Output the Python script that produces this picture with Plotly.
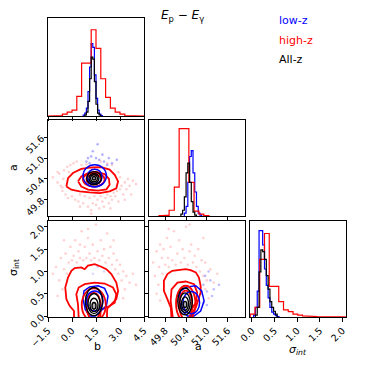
import numpy as np
import plotly.graph_objects as go

# axis ranges / ticks
b_range = [-1.5, 4.5]
a_range = [49.33, 52.1]
s_range = [-0.02, 2.13]
s_xrange = [-0.04, 2.08]
b_ticks = [-1.5, 0.0, 1.5, 3.0, 4.5]
b_ticktext = ["\u22121.5", "0.0", "1.5", "3.0", "4.5"]
a_ticks = [49.8, 50.4, 51.0, 51.6]
a_ticktext = ["49.8", "50.4", "51.0", "51.6"]
s_ticks = [0.0, 0.5, 1.0, 1.5, 2.0]
s_ticktext = ["0.0", "0.5", "1.0", "1.5", "2.0"]

# ---- 1D histograms (heights as fraction of panel) ----
red_b_hist = [0.0, 0.0, 0.005, 0.02, 0.04, 0.06, 0.2, 0.54, 0.54, 0.88,
              0.69, 0.38, 0.19, 0.08, 0.04, 0.02, 0.005, 0.0, 0.0, 0.0]
blue_b_edges = [0.7, 0.8, 0.9, 1.0, 1.1, 1.2, 1.3, 1.4, 1.5, 1.6, 1.7, 1.8, 1.9]
blue_b_hist = [0.01, 0.03, 0.08, 0.25, 0.5, 0.74, 0.7, 0.42, 0.18, 0.06, 0.02, 0.005]
black_b_edges = [0.8, 0.9, 1.0, 1.1, 1.2, 1.3, 1.4, 1.5, 1.6, 1.7, 1.8]
black_b_hist = [0.01, 0.04, 0.15, 0.38, 0.6, 0.58, 0.35, 0.12, 0.03, 0.01]

red_a_edges = [49.62, 49.77, 49.91, 50.06, 50.20, 50.34, 50.48, 50.63, 50.77, 50.91, 51.06]
red_a_hist = [0.003, 0.007, 0.06, 0.30, 0.91, 0.91, 0.35, 0.05, 0.02, 0.005]
blue_a_edges = [50.35, 50.40, 50.45, 50.50, 50.55, 50.60, 50.65, 50.70, 50.75, 50.80, 50.85]
blue_a_hist = [0.03, 0.1, 0.35, 0.62, 0.68, 0.45, 0.25, 0.1, 0.03, 0.01]
black_a_edges = [50.25, 50.30, 50.35, 50.40, 50.45, 50.50, 50.55, 50.60, 50.65, 50.70]
black_a_hist = [0.02, 0.06, 0.2, 0.45, 0.55, 0.35, 0.15, 0.04, 0.01]

red_s_hist = [0.03, 0.1, 0.6, 0.87, 0.32, 0.32, 0.16, 0.075, 0.055, 0.03,
              0.02, 0.012, 0.008, 0.005, 0.004, 0.003, 0.002, 0.001, 0.0, 0.002]
red_s_lims = [-0.035, 2.065]
blue_s_edges = [0.04, 0.08, 0.12, 0.16, 0.20, 0.24, 0.28, 0.32, 0.36, 0.40, 0.44, 0.48, 0.52, 0.56, 0.60]
blue_s_hist = [0.02, 0.1, 0.27, 0.9, 0.9, 0.75, 0.5, 0.33, 0.2, 0.1, 0.05, 0.03, 0.015, 0.005]
black_s_edges = [0.08, 0.12, 0.16, 0.20, 0.24, 0.28, 0.32, 0.36, 0.40, 0.44, 0.48, 0.52, 0.56]
black_s_hist = [0.02, 0.1, 0.47, 0.70, 0.68, 0.6, 0.43, 0.29, 0.16, 0.1, 0.06, 0.03]

# ---- b vs a ----
ba_red_outer_b = [-0.35, -0.25, 0.06, 0.58, 1.21, 1.83, 2.35, 2.67, 2.88, 2.77, 2.35, 1.73, 1.10, 0.48, -0.04, -0.35]
ba_red_outer_a = [50.18, 50.42, 50.57, 50.69, 50.73, 50.74, 50.67, 50.52, 50.33, 50.13, 50.04, 49.99, 50.01, 50.04, 50.09, 50.18]
ba_red_2_b = [0.38, 0.58, 1.0, 1.52, 2.04, 2.31, 2.35, 2.15, 1.63, 1.0, 0.58, 0.38]
ba_red_2_a = [50.33, 50.47, 50.57, 50.60, 50.54, 50.40, 50.23, 50.10, 50.06, 50.09, 50.18, 50.33]
ba_red_pts_b = [-1.2, -0.9, -0.8, -0.7, -0.6, -0.55, -0.5, -0.4, -0.3, -0.25, -0.1, 0.0, 0.1, 0.2, 0.3, 0.4,
                0.5, 0.6, 0.7, 0.8, 0.9, 1.0, 1.1, 1.2, 1.3, 1.4, 1.5, 1.6, 1.7, 1.8, 1.9, 2.0, 2.1, 2.2,
                2.3, 2.4, 2.5, 2.6, 2.7, 2.8, 2.9, 3.0, 3.1, 3.2, 3.3, 3.4, 3.5, 3.6, 3.8, 4.0, 2.9, 3.0,
                2.5, 2.2, 1.8, -0.2, -0.6, 3.3, 0.5, 1.2, 2.4, -0.9, 3.7]
ba_red_pts_a = [50.45, 50.3, 50.55, 50.2, 50.05, 50.4, 50.65, 49.95, 50.75, 49.85, 50.8, 49.9, 50.85, 49.8,
                50.9, 49.75, 49.95, 50.8, 49.7, 49.9, 50.82, 49.6, 49.85, 49.5, 49.7, 49.9, 49.65, 49.8,
                49.55, 49.9, 49.75, 49.6, 49.85, 49.95, 49.7, 49.9, 49.8, 50.0, 49.9, 50.05, 49.75, 50.1,
                50.2, 49.95, 50.3, 50.1, 50.4, 50.2, 50.35, 50.25, 50.6, 50.45, 50.8, 50.85, 50.9, 50.6,
                50.15, 49.8, 49.6, 49.4, 49.55, 50.6, 49.95]
ba_blue_pts_b = [1.0, 1.3, 1.5, 1.7, 2.0, 2.3, 2.8, 1.1, 1.9, 2.5, 0.9, 1.6, 1.2, 2.2]
ba_blue_pts_a = [51.0, 51.2, 51.0, 50.95, 50.9, 51.0, 50.95, 50.85, 51.1, 50.85, 50.9, 51.4, 51.05, 50.8]
# ellipses: centre x, centre y, half-width, half-height
ba_red_ell = [(1.36, 50.38, 0.68, 0.20), (1.36, 50.39, 0.46, 0.14)]
ba_blue_ell = [(1.42, 50.49, 0.73, 0.32), (1.42, 50.47, 0.46, 0.21)]
ba_black_ell = [(1.375, 50.42, 0.46, 0.19), (1.375, 50.42, 0.31, 0.14),
                (1.375, 50.42, 0.21, 0.10), (1.375, 50.42, 0.10, 0.05)]

# ---- b vs sigma_int ----
bs_red_outer_b = [0.125, 0.125, -0.15, -0.35, -0.42, -0.25, -0.04, 0.17, 0.58, 0.79, 1.0, 1.42, 1.83,
                  2.15, 2.46, 2.77, 2.88, 2.77, 2.46, 2.21, 2.19, 2.19]
bs_red_outer_s = [-0.05, 0.115, 0.23, 0.38, 0.64, 0.865, 1.015, 1.075, 1.09, 1.05, 1.13, 1.165, 1.105,
                  1.05, 0.94, 0.75, 0.565, 0.38, 0.265, 0.175, 0.1, -0.05]
bs_red_2_b = [0.42, 0.375, 0.27, 0.42, 0.79, 1.42, 2.04, 2.56, 2.77, 2.67, 2.25, 1.79, 1.77]
bs_red_2_s = [-0.05, 0.265, 0.49, 0.64, 0.715, 0.75, 0.73, 0.64, 0.49, 0.30, 0.205, 0.15, -0.05]
bs_blue_outer_b = [1.1, 0.83, 0.69, 0.75, 1.1, 1.625, 2.04, 2.25, 2.15, 1.73, 1.46, 1.1]
bs_blue_outer_s = [0.0, 0.15, 0.38, 0.565, 0.655, 0.68, 0.62, 0.45, 0.23, 0.1, 0.0, 0.0]
bs_red_ell = [(1.36, 0.25, 0.75, 0.37), (1.36, 0.22, 0.45, 0.30)]
bs_blue_ell = [(1.42, 0.34, 0.52, 0.225)]
bs_black_ell = [(1.375, 0.325, 0.54, 0.315), (1.375, 0.28, 0.375, 0.225),
                (1.375, 0.25, 0.25, 0.15), (1.375, 0.23, 0.125, 0.075)]
bs_red_pts_b = [-1.2, -1.0, -0.8, -0.7, -0.6, -0.5, -0.4, -0.3, -0.2, -0.1, 0.0, 0.1, 0.2, 0.3, 0.4, 0.5,
                0.6, 0.7, 0.8, 0.9, 1.0, 1.1, 1.2, 1.3, 1.4, 1.5, 1.6, 1.7, 1.8, 1.9, 2.0, 2.1, 2.2, 2.3,
                2.4, 2.5, 2.6, 2.7, 2.8, 2.9, 3.0, 3.1, 3.2, 3.3, 3.4, 3.6, 3.8, 4.0, -0.9, 3.2, 1.0, 2.6,
                -0.5, 0.5]
bs_red_pts_s = [0.95, 1.1, 0.8, 1.3, 0.6, 1.05, 1.4, 0.95, 1.2, 1.55, 1.25, 1.35, 1.7, 1.2, 1.45, 1.3,
                1.9, 1.25, 1.55, 1.3, 1.75, 1.4, 1.25, 1.6, 1.3, 2.05, 1.45, 1.25, 1.7, 1.35, 1.5, 1.2,
                1.85, 1.3, 1.55, 1.15, 1.4, 1.05, 1.25, 0.95, 1.15, 0.8, 1.0, 0.6, 0.9, 0.75, 0.95, 0.7,
                0.45, 0.4, 1.95, 1.7, 1.7, 1.6]
bs_blue_pts_b = [1.3, 1.6, 2.0]
bs_blue_pts_s = [0.95, 1.1, 1.0]

# ---- a vs sigma_int ----
as_red_outer_a = [49.98, 49.96, 49.86, 49.76, 49.76, 49.86, 50.0, 50.2, 50.39, 50.53, 50.68, 50.77,
                  50.82, 50.82, 50.75, 50.68, 50.58, 50.58]
as_red_outer_s = [-0.05, 0.19, 0.38, 0.565, 0.79, 0.94, 1.015, 1.03, 1.05, 1.03, 0.98, 0.865,
                  0.68, 0.53, 0.34, 0.19, 0.08, -0.05]
as_red_2_a = [50.02, 49.955, 49.98, 50.15, 50.39, 50.63, 50.72, 50.68, 50.56, 50.53]
as_red_2_s = [-0.05, 0.34, 0.60, 0.75, 0.775, 0.715, 0.53, 0.30, 0.15, -0.05]
as_blue_outer_a = [50.29, 50.2, 50.24, 50.44, 50.68, 50.85, 50.92, 50.82, 50.63, 50.44, 50.29]
as_blue_outer_s = [0.115, 0.34, 0.565, 0.655, 0.68, 0.565, 0.34, 0.115, 0.0, 0.0, 0.115]
as_red_ell = [(50.39, 0.28, 0.28, 0.40), (50.39, 0.25, 0.19, 0.32)]
as_blue_ell = [(50.55, 0.30, 0.24, 0.25)]
as_black_ell = [(50.37, 0.33, 0.21, 0.30), (50.37, 0.30, 0.15, 0.22),
                (50.37, 0.28, 0.10, 0.15), (50.37, 0.26, 0.05, 0.07)]
as_red_pts_a = [49.45, 49.5, 49.55, 49.6, 49.62, 49.65, 49.7, 49.72, 49.75, 49.8, 49.85, 49.88, 49.9,
                49.95, 50.0, 50.05, 50.1, 50.15, 50.2, 50.25, 50.3, 50.35, 50.4, 50.45, 50.5, 50.55,
                50.6, 50.65, 50.7, 50.75, 50.8, 50.85, 50.9, 50.95, 51.0, 51.1, 51.2, 51.3, 49.55,
                49.65, 50.95, 51.05, 50.5, 50.9, 49.9]
as_red_pts_s = [1.2, 0.9, 1.45, 0.7, 1.1, 1.6, 1.3, 0.95, 1.5, 1.15, 1.75, 1.3, 1.1, 1.55, 1.25, 1.9,
                1.15, 1.4, 1.7, 1.2, 1.5, 1.3, 2.0, 1.15, 1.45, 1.6, 1.2, 1.35, 1.1, 1.5, 1.0, 1.25,
                0.9, 1.2, 0.8, 1.05, 0.75, 0.95, 0.5, 0.35, 0.6, 0.4, 2.05, 1.75, 1.95]
as_blue_pts_a = [50.9, 51.0, 51.1, 50.95, 51.2, 51.05, 50.85, 51.35, 51.15, 50.9, 51.0]
as_blue_pts_s = [0.7, 0.55, 0.8, 0.9, 0.6, 1.0, 0.5, 0.7, 0.45, 0.3, 0.25]

RED, BLUE, BLACK = "#ff0000", "#0000ff", "#000000"

fig = go.Figure()


def step(edges, heights):
    xs = np.repeat(np.asarray(edges, float), 2)
    ys = np.concatenate([[0], np.repeat(np.asarray(heights, float), 2), [0]])
    return xs, ys


def add_hist(edges, heights, color, ax, width=1.2):
    xs, ys = step(edges, heights)
    fig.add_trace(go.Scatter(x=xs, y=ys, mode="lines", line=dict(color=color, width=width),
                             xaxis="x" + ax, yaxis="y" + ax, hoverinfo="skip"))


def add_pts(xs, ys, color, ax, alpha=0.18):
    fig.add_trace(go.Scatter(x=xs, y=ys, mode="markers",
                             marker=dict(color=color, size=2.6, opacity=alpha, line=dict(width=0)),
                             xaxis="x" + ax, yaxis="y" + ax, hoverinfo="skip"))


def add_line(xs, ys, color, ax, width):
    fig.add_trace(go.Scatter(x=xs, y=ys, mode="lines", line=dict(color=color, width=width),
                             xaxis="x" + ax, yaxis="y" + ax, hoverinfo="skip"))


def add_ell(ells, color, ax, width, fill_last=False):
    for i, (cx, cy, rx, ry) in enumerate(ells):
        fill = "rgba(120,120,120,0.55)" if (fill_last and i == len(ells) - 1) else None
        fig.add_shape(type="circle", xref="x" + ax, yref="y" + ax,
                      x0=cx - rx, x1=cx + rx, y0=cy - ry, y1=cy + ry,
                      fillcolor=fill, line=dict(color=color, width=width), layer="above")


# top-left: b histogram
add_hist(blue_b_edges, blue_b_hist, BLUE, "1")
add_hist(np.linspace(b_range[0], b_range[1], len(red_b_hist) + 1), red_b_hist, RED, "1")
add_hist(black_b_edges, black_b_hist, BLACK, "1")

# middle: a histogram
add_hist(blue_a_edges, blue_a_hist, BLUE, "3")
add_hist(red_a_edges, red_a_hist, RED, "3")
add_hist(black_a_edges, black_a_hist, BLACK, "3")

# right: sigma histogram
add_hist(blue_s_edges, blue_s_hist, BLUE, "6")
add_hist(np.linspace(red_s_lims[0], red_s_lims[1], len(red_s_hist) + 1), red_s_hist, RED, "6")
add_hist(black_s_edges, black_s_hist, BLACK, "6")

# b vs a
add_pts(ba_red_pts_b, ba_red_pts_a, RED, "2")
add_pts(ba_blue_pts_b, ba_blue_pts_a, BLUE, "2", 0.3)
add_line(ba_red_outer_b, ba_red_outer_a, RED, "2", 1.8)
add_line(ba_red_2_b, ba_red_2_a, RED, "2", 1.8)
add_ell(ba_red_ell, RED, "2", 1.8)
add_ell(ba_blue_ell, BLUE, "2", 1.5)
add_ell(ba_black_ell, BLACK, "2", 1.4, True)

# b vs sigma
add_pts(bs_red_pts_b, bs_red_pts_s, RED, "4")
add_pts(bs_blue_pts_b, bs_blue_pts_s, BLUE, "4", 0.15)
add_line(bs_red_outer_b, bs_red_outer_s, RED, "4", 1.8)
add_line(bs_red_2_b, bs_red_2_s, RED, "4", 1.8)
add_ell(bs_red_ell, RED, "4", 1.8)
add_line(bs_blue_outer_b, bs_blue_outer_s, BLUE, "4", 1.5)
add_ell(bs_blue_ell, BLUE, "4", 1.5)
add_ell(bs_black_ell, BLACK, "4", 1.4, True)

# a vs sigma
add_pts(as_red_pts_a, as_red_pts_s, RED, "5")
add_pts(as_blue_pts_a, as_blue_pts_s, BLUE, "5", 0.25)
add_line(as_red_outer_a, as_red_outer_s, RED, "5", 1.8)
add_line(as_red_2_a, as_red_2_s, RED, "5", 1.8)
add_ell(as_red_ell, RED, "5", 1.8)
add_line(as_blue_outer_a, as_blue_outer_s, BLUE, "5", 1.5)
add_ell(as_blue_ell, BLUE, "5", 1.5)
add_ell(as_black_ell, BLACK, "5", 1.4, True)

# page body adds an 8px offset, so positions are shifted back by it
W = 366.0
OFF = 8.0


def px(x):
    return (x - OFF) / W


def py(y):
    return 1 - (y - OFF) / W


cols = [(px(48), px(144)), (px(149), px(245)), (px(250), px(346))]
rows = [(py(116), py(18)), (py(216), py(120)), (py(317), py(221))]

tickfont = dict(family="DejaVu Sans", size=9.5, color="black")


def axis(domain, rng, anchor, tickvals=None, ticktext=None, labels=False):
    d = dict(domain=list(domain), range=rng, anchor=anchor, showgrid=False, zeroline=False,
             showline=True, mirror=True, linecolor="black", linewidth=1, automargin=False,
             tickfont=tickfont, tickangle=-45, fixedrange=True)
    if tickvals is None:
        d.update(ticks="", showticklabels=False)
    else:
        d.update(ticks="outside", ticklen=3.5, tickwidth=0.8, tickcolor="black",
                 tickvals=tickvals, ticktext=ticktext, showticklabels=labels)
    return d


layout = dict(
    xaxis=axis(cols[0], b_range, "y", b_ticks, b_ticktext),
    yaxis=axis(rows[0], [0, 1], "x"),
    xaxis2=axis(cols[0], b_range, "y2", b_ticks, b_ticktext),
    yaxis2=axis(rows[1], a_range, "x2", a_ticks, a_ticktext, True),
    xaxis3=axis(cols[1], a_range, "y3", a_ticks, a_ticktext),
    yaxis3=axis(rows[1], [0, 1], "x3"),
    xaxis4=axis(cols[0], b_range, "y4", b_ticks, b_ticktext, True),
    yaxis4=axis(rows[2], s_range, "x4", s_ticks, s_ticktext, True),
    xaxis5=axis(cols[1], a_range, "y5", a_ticks, a_ticktext, True),
    yaxis5=axis(rows[2], s_range, "x5", s_ticks, s_ticktext),
    xaxis6=axis(cols[2], s_xrange, "y6", s_ticks, s_ticktext, True),
    yaxis6=axis(rows[2], [0, 1], "x6"),
)
fig.update_layout(**layout)

lab = dict(family="DejaVu Sans", size=11, color="black")
ann = [
    dict(x=px(182), y=py(16), text="<i>E</i><sub>p</sub> \u2212 <i>E</i><sub>\u03b3</sub>",
         font=dict(family="DejaVu Sans", size=12, color="black")),
    dict(x=px(277), y=py(20), text="low-z", xanchor="left", font=dict(family="DejaVu Sans", size=11, color=BLUE)),
    dict(x=px(277), y=py(41), text="high-z", xanchor="left", font=dict(family="DejaVu Sans", size=11, color=RED)),
    dict(x=px(277), y=py(60), text="All-z", xanchor="left", font=dict(family="DejaVu Sans", size=11, color=BLACK)),
    dict(x=px(97), y=py(346), text="b", font=lab),
    dict(x=px(198), y=py(346), text="a", font=lab),
    dict(x=px(298), y=py(350), text="<i>\u03c3<sub>int</sub></i>", font=lab),
    dict(x=px(13), y=py(168), text="a", textangle=-90, font=lab),
    dict(x=px(14), y=py(268), text="\u03c3<sub>int</sub>", textangle=-90, font=lab),
]
for a in ann:
    a.setdefault("xanchor", "center")
    a.update(xref="paper", yref="paper", yanchor="middle", showarrow=False)

fig.update_layout(annotations=ann, width=366, height=366, showlegend=False,
                  margin=dict(l=0, r=0, t=0, b=0),
                  paper_bgcolor="white", plot_bgcolor="white")

fig.write_html("out.html")
